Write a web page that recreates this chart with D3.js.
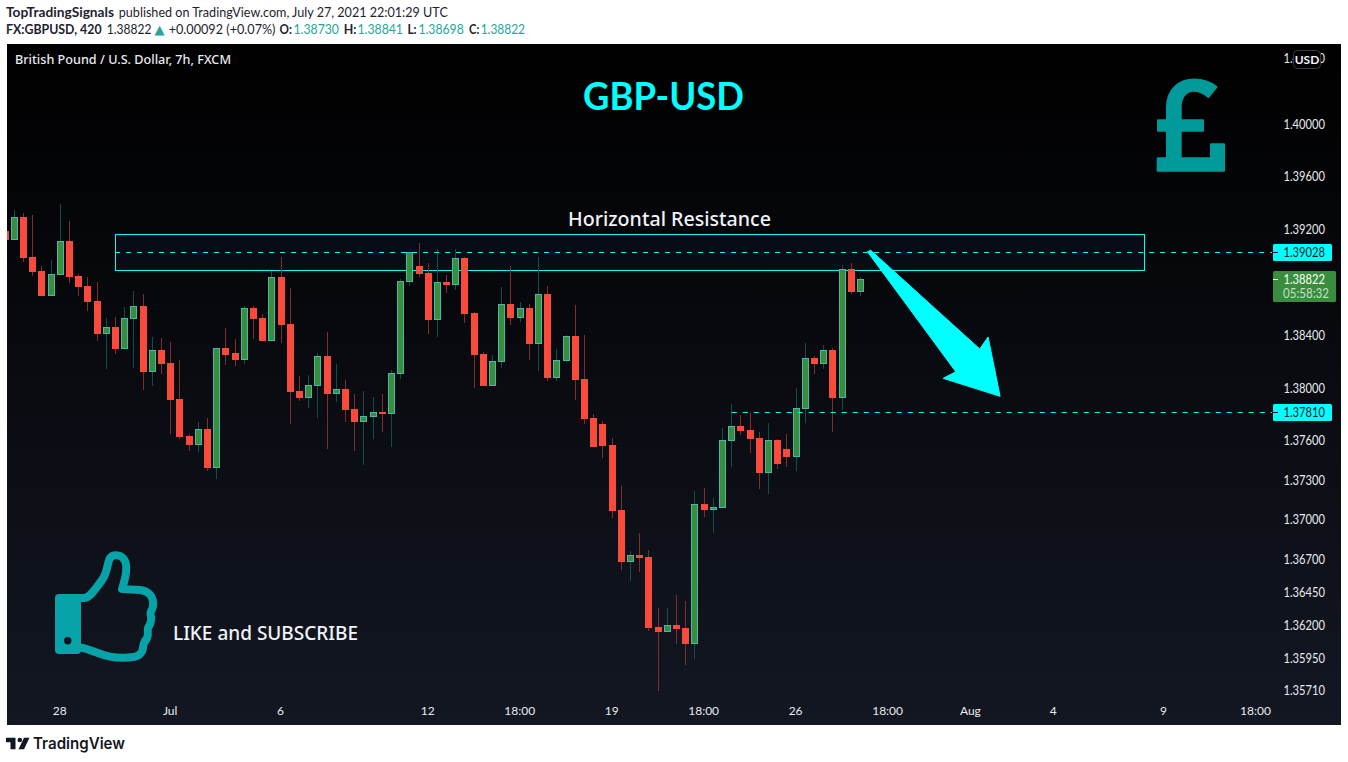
<!DOCTYPE html>
<html><head><meta charset="utf-8">
<script src="https://cdn.jsdelivr.net/npm/d3@7"></script>
<style>
html,body{margin:0;padding:0;background:#fff;overflow:hidden}
svg{display:block}
text{white-space:pre}
</style></head><body>
<svg id="c" width="1348" height="762"></svg>
<script>
// candle index runs from -1 (clipped at the left edge) to 92
const opens=[1.39189,1.39121,1.39295,1.38992,1.38886,1.38696,1.38855,1.39113,1.38848,1.38772,1.38658,1.38408,1.38461,1.38294,1.38522,1.38620,1.38120,1.38287,1.38188,1.37916,1.37635,1.37567,1.37688,1.37393,1.38302,1.38264,1.38211,1.38605,1.38530,1.38355,1.38840,1.38484,1.37976,1.37923,1.38014,1.38242,1.37953,1.37991,1.37840,1.37741,1.37779,1.37817,1.37802,1.38105,1.38802,1.38924,1.38871,1.38514,1.38802,1.38780,1.38984,1.38567,1.38257,1.38014,1.38196,1.38636,1.38530,1.38605,1.38332,1.38711,1.38075,1.38204,1.38393,1.38067,1.37772,1.37726,1.37567,1.37074,1.36680,1.36733,1.36718,1.36187,1.36149,1.36203,1.36180,1.36058,1.37120,1.37074,1.37089,1.37597,1.37711,1.37681,1.37620,1.37355,1.37605,1.37537,1.37476,1.37840,1.38226,1.38181,1.38287,1.37923,1.38901,1.38730];
const highs=[1.39189,1.39348,1.39325,1.39310,1.38924,1.38969,1.39394,1.39265,1.38863,1.38840,1.38802,1.38530,1.38537,1.38613,1.38734,1.38711,1.38386,1.38378,1.38348,1.38211,1.37650,1.37741,1.37772,1.38302,1.38454,1.38370,1.38620,1.38620,1.38560,1.38886,1.38992,1.38757,1.38090,1.38098,1.38264,1.38424,1.38181,1.38060,1.37953,1.37976,1.37931,1.37953,1.38135,1.38825,1.39030,1.39098,1.38946,1.39053,1.38855,1.39053,1.38992,1.38575,1.38272,1.38249,1.38765,1.38924,1.38651,1.38636,1.38992,1.38772,1.38294,1.38401,1.38628,1.38401,1.37802,1.37749,1.37620,1.37256,1.36763,1.36900,1.36771,1.36331,1.36331,1.36430,1.36384,1.37218,1.37241,1.37165,1.37696,1.37878,1.37794,1.37809,1.37665,1.37734,1.37612,1.37650,1.37999,1.38340,1.38242,1.38325,1.38302,1.38931,1.38946,1.38841];
const lows=[1.39121,1.39121,1.38954,1.38848,1.38696,1.38696,1.38855,1.38795,1.38696,1.38583,1.38355,1.38143,1.38257,1.38294,1.38150,1.37984,1.38014,1.38105,1.37650,1.37612,1.37521,1.37514,1.37370,1.37309,1.38173,1.38166,1.38181,1.38370,1.38355,1.38355,1.38340,1.37726,1.37900,1.37847,1.37772,1.37537,1.37893,1.37741,1.37521,1.37415,1.37612,1.37665,1.37552,1.38067,1.38772,1.38840,1.38408,1.38386,1.38719,1.38742,1.38492,1.37999,1.38014,1.38014,1.38150,1.38477,1.38499,1.38211,1.38128,1.38052,1.38052,1.38196,1.37908,1.37726,1.37552,1.37468,1.37014,1.36619,1.36536,1.36604,1.36157,1.35702,1.36149,1.36058,1.35899,1.35945,1.37021,1.36900,1.37089,1.37400,1.37643,1.37506,1.37233,1.37195,1.37385,1.37400,1.37370,1.37734,1.38105,1.38143,1.37665,1.37832,1.38711,1.38698];
const closes=[1.39121,1.39295,1.38984,1.38878,1.38696,1.38863,1.39113,1.38840,1.38765,1.38651,1.38408,1.38461,1.38294,1.38530,1.38620,1.38120,1.38287,1.38181,1.37908,1.37628,1.37567,1.37688,1.37393,1.38302,1.38249,1.38211,1.38605,1.38522,1.38355,1.38840,1.38477,1.37969,1.37923,1.38022,1.38242,1.37953,1.37991,1.37832,1.37741,1.37787,1.37817,1.37802,1.38113,1.38810,1.39030,1.38863,1.38514,1.38802,1.38780,1.38984,1.38560,1.38249,1.38014,1.38204,1.38636,1.38530,1.38605,1.38332,1.38711,1.38075,1.38211,1.38393,1.38060,1.37764,1.37552,1.37559,1.37066,1.36680,1.36733,1.36710,1.36180,1.36149,1.36203,1.36172,1.36058,1.37120,1.37074,1.37097,1.37605,1.37711,1.37673,1.37612,1.37355,1.37605,1.37423,1.37476,1.37847,1.38226,1.38181,1.38287,1.37923,1.38901,1.38727,1.38822];
const firstIndex=-1;

const priceTicks=[1.405,1.40,1.396,1.392,1.384,1.38,1.376,1.373,1.37,1.367,1.3645,1.362,1.3595,1.3571];
const timeTickIndex=[5,17,29,45,55,65,75,85,95,104,113,125,135];
const timeTickLabels=["28","Jul","6","12","18:00","19","18:00","26","18:00","Aug","4","9","18:00"];

const headerTop=["TopTradingSignals","published on TradingView.com, July 27, 2021 22:01:29 UTC"];
const headerBottom=["FX:GBPUSD, 420","1.38822","+0.00092 (+0.07%)","O:","1.38730","H:","1.38841","L:","1.38698","C:","1.38822"];

const resistanceLevel=1.39028, supportLevel=1.37810, lastClose=1.38822;
const zoneTop=1.39165, zoneBottom=1.38890, zoneStart=10.96, zoneEnd=122.8, supportStart=78;
const arrowIdx=[92.76,93.11,104.97,105.87,107.18,100.98,102.36];
const arrowPrice=[1.39032,1.39043,1.38295,1.38386,1.37936,1.38072,1.38122];

const W=1348,H=762, L=7,R=1341,T=44,B=725;
const CHART='Lato, "Noto Sans", sans-serif';
const svg=d3.select('#c');
const x=d3.scaleLinear().domain([0,92]).range([14.3,860.5]);
const y=d3.scaleLinear().domain([1.40,1.3571]).range([124,690]);
const px=v=>Math.round(y(v));
const fitted=(sel,len)=>sel.attr('textLength',len).attr('lengthAdjust','spacingAndGlyphs');

const defs=svg.append('defs');
const g0=defs.append('linearGradient').attr('id','bg').attr('x1',0).attr('x2',0).attr('y1',0).attr('y2',1);
g0.append('stop').attr('offset',0).attr('stop-color','#000000');
g0.append('stop').attr('offset',1).attr('stop-color','#131722');
defs.append('clipPath').attr('id','pane').append('rect').attr('x',L).attr('y',T).attr('width',R-L).attr('height',B-T);

svg.append('rect').attr('width',W).attr('height',H).attr('fill','#ffffff');
svg.append('rect').attr('x',L).attr('y',T).attr('width',R-L).attr('height',B-T).attr('fill','url(#bg)');

// header, each piece placed on its own
const hdr=svg.append('g').attr('font-family',CHART).attr('font-size',14).attr('fill','#1e222d');
const TEAL='#26a69a';
const topSpans=[[6,108,700],[118.8,329,400]];
headerTop.forEach((s,k)=>fitted(hdr.append('text').attr('x',topSpans[k][0]).attr('y',17).attr('font-weight',topSpans[k][2]).text(s),topSpans[k][1]));
const botSpans=[[6,95.6,700,null],[106.8,44.7,400,null],[168.7,106.8,400,null],[279.6,12.4,700,null],[293.4,45.6,400,TEAL],[343.7,12.7,700,null],[357.4,45.6,400,TEAL],[407.4,9.3,700,null],[418.4,45.4,400,TEAL],[469,10.3,700,null],[480.7,44.3,400,TEAL]];
headerBottom.forEach((s,k)=>{
  const b=botSpans[k];
  const t=hdr.append('text').attr('x',b[0]).attr('y',34).attr('font-weight',b[2]).text(s);
  if(b[3])t.attr('fill',b[3]);
  fitted(t,b[1]);
});
hdr.append('text').attr('x',154.5).attr('y',34).attr('font-family','"DejaVu Sans"').attr('font-size',13).attr('fill',TEAL).text('▲');

const pane=svg.append('g').attr('clip-path','url(#pane)');

// zone behind candles
pane.append('rect').attr('x',Math.round(x(zoneStart))+.5).attr('y',px(zoneTop)+.5)
  .attr('width',Math.round(x(zoneEnd)-x(zoneStart))).attr('height',px(zoneBottom)-px(zoneTop))
  .attr('fill','rgba(40,110,255,0.05)').attr('stroke','#00ffff').attr('stroke-width',1);

// candles
const candles=opens.map((o,k)=>({i:k+firstIndex,o,h:highs[k],l:lows[k],c:closes[k]}));
const cg=pane.append('g').selectAll('g').data(candles).join('g');
const cx=d=>Math.floor(x(d.i));
cg.append('rect').attr('x',cx).attr('width',1)
  .attr('y',d=>px(d.h)).attr('height',d=>Math.max(0,px(d.l)-px(d.h)))
  .attr('fill',d=>d.c>=d.o?'#0e4f4b':'#7d2e2e');
cg.append('rect').attr('x',d=>cx(d)-2.5).attr('width',6)
  .attr('y',d=>px(Math.max(d.o,d.c))+.5)
  .attr('height',d=>Math.max(1,px(Math.min(d.o,d.c))-px(Math.max(d.o,d.c))-1))
  .attr('fill',d=>d.c>=d.o?'#388e3c':'#f94a3c')
  .attr('stroke',d=>d.c>=d.o?'#4db6ac':'#f94a3c').attr('stroke-width',1);

// levels
const CY='#00ffff';
const lineY=v=>Math.floor(y(v));
pane.append('line').attr('x1',x(zoneStart)).attr('x2',1272).attr('y1',lineY(resistanceLevel)+.5).attr('y2',lineY(resistanceLevel)+.5)
  .attr('stroke',CY).attr('stroke-dasharray','5 6');
pane.append('line').attr('x1',x(supportStart)).attr('x2',1272).attr('y1',lineY(supportLevel)+.5).attr('y2',lineY(supportLevel)+.5)
  .attr('stroke',CY).attr('stroke-dasharray','5 6');

// arrow
pane.append('polygon').attr('points',arrowIdx.map((a,k)=>x(a)+','+y(arrowPrice[k])).join(' '))
  .attr('fill',CY).attr('stroke',CY).attr('stroke-width',1).attr('stroke-linejoin','round');

// annotation text
const TXT='"Noto Sans", sans-serif';
fitted(svg.append('text').attr('x',583).attr('y',110).attr('font-family',CHART).attr('font-weight',700)
  .attr('font-size',38).attr('fill',CY).text('GBP-USD'),161);
fitted(svg.append('text').attr('x',568).attr('y',226).attr('font-family',TXT).attr('font-weight',500)
  .attr('font-size',20).attr('fill','#f0f3fa').text('Horizontal Resistance'),203);
fitted(svg.append('text').attr('x',173).attr('y',640).attr('font-family',TXT).attr('font-weight',500)
  .attr('font-size',19).attr('fill','#f0f3fa').text('LIKE and SUBSCRIBE'),185);
fitted(svg.append('text').attr('x',15).attr('y',64).attr('font-family',TXT).attr('font-size',12.5).attr('font-weight',500)
  .attr('fill','#e8eaf0').text('British Pound / U.S. Dollar, 7h, FXCM'),216);

// pound icon
svg.append('path').attr('fill','#009a9a').attr('stroke','#009a9a').attr('stroke-width',2).attr('stroke-linejoin','round')
 .attr('d','M1167,158 L1167,107 C1167,89 1180,79.5 1194,79.5 C1204,79.5 1211,82.5 1216.5,87 L1208.5,97 C1204,93.5 1199,90.8 1194,90.8 C1185,90.8 1180.7,98 1180.7,107 L1180.7,158 Z M1158,120.3 L1203,120.3 L1203,130.7 L1158,130.7 Z M1157.7,158.3 L1211,158.3 L1211,144.3 L1224,144.3 L1224,170.7 L1157.7,170.7 Z');

// thumb icon
svg.append('rect').attr('x',55).attr('y',594).attr('width',26).attr('height',60).attr('rx',4).attr('fill','#06a3a8');
svg.append('circle').attr('cx',67.7).attr('cy',640.7).attr('r',3.7).attr('fill','#11141c');
svg.append('path').attr('fill','none').attr('stroke','#06a3a8').attr('stroke-width',8).attr('stroke-linejoin','round').attr('stroke-linecap','round')
 .attr('d','M80,598 L84,598 C90,598 96,588 102,580 C108,572 107,563 110,558 C113,554 122,554 125,561 C128,568 125,580 122,589 L140,590 C149,591 154,597 153,606 C152,611 150,612 150.5,614 C152,618 151,624 148,628 C147,631 149,634 147,638 C144,642 143,644 143,648 C142,655 137,657 128,657.5 C118,658.5 108,657 98,653 C90,650 84,648 80,647.5');

// price labels
const AX='Lato, "Noto Sans", sans-serif';
const yAxis=d3.axisRight(y).tickValues(priceTicks).tickFormat(d3.format('.5f')).tickSize(0);
const ya=svg.append('g').attr('transform','translate(1325,0)').call(yAxis);
ya.select('.domain').remove();
fitted(ya.selectAll('text').attr('x',0).attr('text-anchor','end').attr('font-family',AX).attr('font-size',13).attr('fill','#e8eaf0'),41.5);

// time labels
const xAxis=d3.axisBottom(x).tickValues(timeTickIndex).tickFormat((d,k)=>timeTickLabels[k]).tickSize(0);
const xa=svg.append('g').attr('transform','translate(-1,704)').call(xAxis);
xa.select('.domain').remove();
xa.selectAll('text').attr('y',0).attr('dy','.95em').attr('font-family',AX).attr('font-size',12).attr('fill','#e8eaf0');

// USD badge
svg.append('rect').attr('x',1293.5).attr('y',50.5).attr('width',27).attr('height',18).attr('rx',4).attr('fill','#000').attr('stroke','#363a45');
svg.append('text').attr('x',1307).attr('y',63.5).attr('text-anchor','middle').attr('font-family',AX).attr('font-size',12).attr('font-weight',700).attr('fill','#f0f3fa').text('USD');

// price tags
function tagLabel(v,c,txt){
  fitted(svg.append('text').attr('x',1325).attr('y',c+5).attr('text-anchor','end').attr('font-family',AX).attr('font-size',13).attr('fill',txt).text(d3.format('.5f')(v)),41.5);
}
function tag(v,fill,txt){
  const c=lineY(v);
  svg.append('rect').attr('x',1273).attr('y',c-8).attr('width',59).attr('height',17).attr('rx',1.5).attr('fill',fill);
  svg.append('rect').attr('x',1273).attr('y',c).attr('width',5).attr('height',1).attr('fill',txt);
  tagLabel(v,c,txt);
}
tag(resistanceLevel,CY,'#131722');
tag(supportLevel,CY,'#131722');
const lc=px(lastClose);
svg.append('rect').attr('x',1273).attr('y',lc-8).attr('width',63).attr('height',31).attr('rx',1.5).attr('fill','#388e3c');
svg.append('rect').attr('x',1273).attr('y',lc).attr('width',5).attr('height',1).attr('fill','#ffffff');
tagLabel(lastClose,lc,'#ffffff');
fitted(svg.append('text').attr('x',1283).attr('y',lc+19).attr('font-family',AX).attr('font-size',13).attr('fill','#c8dcc9').text('05:58:32'),46);

// TradingView logo
svg.append('path').attr('fill','#131722').attr('d','M6,737.7 H15.5 V749.3 H10.5 V742.2 H6 Z M24,737.7 H29.5 L24,749.3 H18.5 Z');
svg.append('circle').attr('cx',19.8).attr('cy',740).attr('r',2.3).attr('fill','#131722');
fitted(svg.append('text').attr('x',33).attr('y',749).attr('font-family','Inter, sans-serif').attr('font-weight',600).attr('font-size',15.5).attr('fill','#131722').text('TradingView'),92);
</script>
</body></html>
